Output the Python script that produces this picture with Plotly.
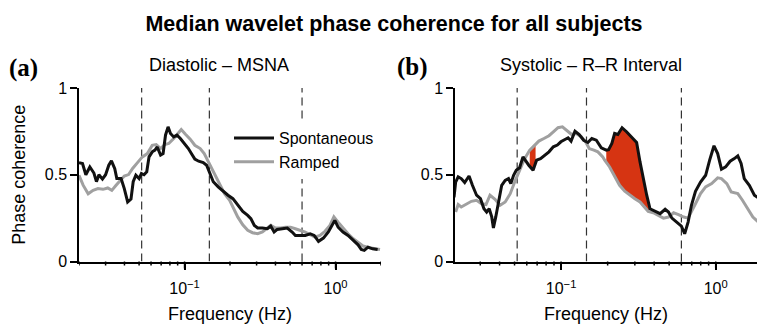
import numpy as np
import plotly.graph_objects as go

# ---------------- data ----------------
# Panel (a): Diastolic – MSNA
a_spont_freq = [0.0200, 0.0211, 0.0222, 0.0236, 0.0251, 0.0261, 0.0271, 0.0286, 0.0300, 0.0315, 0.0328,
                0.0345, 0.0356, 0.0380, 0.0399, 0.0420, 0.0442, 0.0457, 0.0476, 0.0500, 0.0518,
                0.0539, 0.0562, 0.0582, 0.0611, 0.0637, 0.0659, 0.0694, 0.0721, 0.0748, 0.0778,
                0.0807, 0.0848, 0.0891, 0.0938, 0.100, 0.106, 0.112, 0.117, 0.124, 0.133,
                0.140, 0.147, 0.155, 0.167, 0.180, 0.194, 0.209, 0.225, 0.243, 0.262,
                0.275, 0.290, 0.305, 0.328, 0.354, 0.372, 0.392, 0.411, 0.444, 0.479,
                0.516, 0.542, 0.584, 0.630, 0.679, 0.722, 0.771, 0.831, 0.896, 0.955,
                0.989, 1.04, 1.12, 1.21, 1.31, 1.41, 1.48, 1.55, 1.64, 1.76, 1.90]
a_spont_coh = [0.57, 0.565, 0.50, 0.545, 0.51, 0.46, 0.50, 0.475, 0.50, 0.555, 0.58,
               0.535, 0.478, 0.478, 0.42, 0.343, 0.36, 0.46, 0.497, 0.478, 0.507,
               0.50, 0.517, 0.603, 0.632, 0.642, 0.66, 0.613, 0.622, 0.728, 0.776,
               0.738, 0.718, 0.728, 0.709, 0.68, 0.651, 0.617, 0.59, 0.578, 0.57,
               0.555, 0.513, 0.46, 0.43, 0.405, 0.382, 0.362, 0.324, 0.289, 0.266,
               0.247, 0.208, 0.193, 0.193, 0.189, 0.204, 0.17, 0.185, 0.189, 0.193,
               0.17, 0.150, 0.150, 0.150, 0.160, 0.150, 0.116, 0.135, 0.17, 0.212,
               0.237, 0.198, 0.17, 0.150, 0.121, 0.096, 0.069, 0.064, 0.083, 0.073, 0.069]
a_ramp_freq = [0.0200, 0.0213, 0.0230, 0.0248, 0.0267, 0.0288, 0.0310, 0.0330, 0.0352, 0.0374,
               0.0399, 0.0426, 0.0453, 0.0488, 0.0526, 0.0567, 0.0611, 0.0649, 0.0694, 0.0740,
               0.0786, 0.0848, 0.0904, 0.0951, 0.101, 0.109, 0.117, 0.127, 0.135, 0.144,
               0.151, 0.160, 0.171, 0.184, 0.199, 0.209, 0.225, 0.243, 0.262, 0.282,
               0.305, 0.328, 0.350, 0.372, 0.401, 0.433, 0.466, 0.503, 0.542, 0.584,
               0.630, 0.679, 0.732, 0.789, 0.851, 0.918, 0.975, 1.04, 1.12, 1.21,
               1.31, 1.41, 1.52, 1.68, 1.85, 1.97]
a_ramp_coh = [0.497, 0.44, 0.39, 0.41, 0.42, 0.416, 0.424, 0.41, 0.439, 0.468,
              0.493, 0.501, 0.536, 0.570, 0.603, 0.622, 0.67, 0.674, 0.651, 0.674,
              0.68, 0.709, 0.738, 0.761, 0.735, 0.705, 0.67, 0.651, 0.622, 0.574,
              0.536, 0.488, 0.439, 0.391, 0.353, 0.314, 0.257, 0.212, 0.180, 0.166,
              0.160, 0.170, 0.189, 0.208, 0.193, 0.193, 0.198, 0.198, 0.189, 0.180,
              0.170, 0.154, 0.141, 0.150, 0.174, 0.208, 0.257, 0.227, 0.193, 0.160,
              0.131, 0.112, 0.089, 0.079, 0.073, 0.069]

# Panel (b): Systolic – R–R Interval
b_spont_freq = [0.0203, 0.0208, 0.0216, 0.0226, 0.0238, 0.0254, 0.0267, 0.0284, 0.0301, 0.0317, 0.0330,
                0.0343, 0.0356, 0.0365, 0.0378, 0.0394, 0.0413, 0.0435, 0.0457, 0.0473, 0.0493,
                0.0513, 0.0539, 0.0567, 0.0591, 0.0618, 0.0659, 0.0694, 0.0736, 0.0782, 0.0835,
                0.0891, 0.0946, 0.0997, 0.105, 0.111, 0.116, 0.123, 0.131, 0.140, 0.149,
                0.158, 0.169, 0.182, 0.196, 0.203, 0.213, 0.222, 0.233, 0.248, 0.265,
                0.286, 0.308, 0.324, 0.340, 0.358, 0.376, 0.406, 0.437, 0.471, 0.495,
                0.521, 0.562, 0.600, 0.630, 0.663, 0.697, 0.740, 0.798, 0.861, 0.914,
                0.975, 1.03, 1.09, 1.16, 1.24, 1.32, 1.39, 1.46, 1.53, 1.65,
                1.78, 1.94]
b_spont_coh = [0.37, 0.458, 0.488, 0.478, 0.455, 0.493, 0.439, 0.382, 0.362, 0.304, 0.285,
               0.304, 0.257, 0.193, 0.257, 0.333, 0.439, 0.468, 0.478, 0.449, 0.497,
               0.526, 0.540, 0.603, 0.578, 0.555, 0.526, 0.584, 0.593, 0.613, 0.632,
               0.661, 0.671, 0.690, 0.699, 0.713, 0.694, 0.751, 0.732, 0.699, 0.686,
               0.709, 0.699, 0.655, 0.642, 0.645, 0.680, 0.738, 0.732, 0.771, 0.748,
               0.719, 0.686, 0.574, 0.478, 0.382, 0.304, 0.289, 0.276, 0.301, 0.285,
               0.250, 0.227, 0.204, 0.160, 0.227, 0.324, 0.405, 0.458, 0.497, 0.584,
               0.667, 0.622, 0.532, 0.545, 0.578, 0.593, 0.609, 0.565, 0.478, 0.439,
               0.382, 0.359]
b_ramp_freq = [0.0208, 0.0216, 0.0226, 0.0244, 0.0263, 0.0284, 0.0306, 0.0327, 0.0347, 0.0374,
               0.0403, 0.0435, 0.0469, 0.0506, 0.0539, 0.0579, 0.0627, 0.0667, 0.0718, 0.0774,
               0.0835, 0.0891, 0.0955, 0.102, 0.109, 0.117, 0.125, 0.135, 0.145, 0.152,
               0.163, 0.173, 0.186, 0.191, 0.206, 0.222, 0.239, 0.258, 0.278, 0.300,
               0.324, 0.345, 0.366, 0.395, 0.426, 0.459, 0.495, 0.534, 0.575, 0.621,
               0.663, 0.697, 0.740, 0.798, 0.861, 0.942, 1.03, 1.09, 1.18, 1.26,
               1.39, 1.49, 1.61, 1.74, 1.87, 1.94]
b_ramp_coh = [0.285, 0.328, 0.314, 0.333, 0.347, 0.353, 0.333, 0.328, 0.382, 0.359,
              0.324, 0.343, 0.391, 0.468, 0.526, 0.590, 0.642, 0.667, 0.694, 0.709,
              0.725, 0.747, 0.771, 0.776, 0.757, 0.732, 0.738, 0.719, 0.686, 0.651,
              0.642, 0.632, 0.603, 0.585, 0.545, 0.488, 0.439, 0.405, 0.382, 0.362,
              0.343, 0.314, 0.289, 0.281, 0.266, 0.250, 0.256, 0.281, 0.270, 0.256,
              0.250, 0.285, 0.333, 0.391, 0.430, 0.449, 0.482, 0.478, 0.449, 0.401,
              0.391, 0.353, 0.304, 0.256, 0.231, 0.224]

band_edges_hz = [0.052, 0.146, 0.6]          # dashed frequency-band boundaries
b_sig_bands_hz = [(0.0627, 0.0684), (0.196, 0.37)]  # shaded (significant) ranges in (b)

major_ticks = [0.1, 1]
major_labels = ["10<sup>\u22121</sup>", "10<sup>0</sup>"]
minor_ticks = [0.02, 0.03, 0.04, 0.05, 0.06, 0.07, 0.08, 0.09,
               0.2, 0.3, 0.4, 0.5, 0.6, 0.7, 0.8, 0.9, 2]

# ---------------- styling ----------------
W, H = 757, 324
BLACK = "#111111"
GRAY = "#A0A0A0"
RED = "#D63412"
FONT = "Liberation Sans, Arial, sans-serif"

fig = go.Figure()


def sig_polygon(fa, fb, f1, v1, f2, v2):
    """Polygon between two curves over [fa, fb] (interpolated in log-frequency)."""
    l1, l2 = np.log10(f1), np.log10(f2)
    in1 = [f for f in f1 if fa < f < fb]
    in2 = [f for f in f2 if fa < f < fb]
    xs1 = [fa] + in1 + [fb]
    xs2 = [fa] + in2 + [fb]
    ys1 = list(np.interp(np.log10(xs1), l1, v1))
    ys2 = list(np.interp(np.log10(xs2), l2, v2))
    return xs1 + xs2[::-1], ys1 + ys2[::-1]


# significance fills in (b)
for fa, fb in b_sig_bands_hz:
    px, py = sig_polygon(fa, fb, b_spont_freq, b_spont_coh, b_ramp_freq, b_ramp_coh)
    fig.add_trace(go.Scatter(x=px, y=py, xaxis="x2", yaxis="y2", mode="lines",
                             fill="toself", fillcolor=RED, line=dict(width=0, color=RED),
                             showlegend=False, hoverinfo="skip"))

# curves
fig.add_trace(go.Scatter(x=a_ramp_freq, y=a_ramp_coh, name="Ramped", mode="lines",
                         line=dict(color=GRAY, width=3), xaxis="x", yaxis="y",
                         legendrank=2))
fig.add_trace(go.Scatter(x=a_spont_freq, y=a_spont_coh, name="Spontaneous", mode="lines",
                         line=dict(color=BLACK, width=3), xaxis="x", yaxis="y",
                         legendrank=1))
fig.add_trace(go.Scatter(x=b_ramp_freq, y=b_ramp_coh, name="Ramped", mode="lines",
                         line=dict(color=GRAY, width=3), xaxis="x2", yaxis="y2",
                         showlegend=False))
fig.add_trace(go.Scatter(x=b_spont_freq, y=b_spont_coh, name="Spontaneous", mode="lines",
                         line=dict(color=BLACK, width=3), xaxis="x2", yaxis="y2",
                         showlegend=False))

y_dom = [(H - 261.5) / H, (H - 88) / H]
xa_dom = [79 / W, 381 / W]
xb_dom = [455 / W, 1.0]
xa_rng = [np.log10(0.02), np.log10(2.0)]
xb_rng = [np.log10(0.0206), np.log10(1.85)]

# dashed band boundaries + explicit tick marks (major long, minor short)
shapes = []
for xr, yr, rng in (("x", "y", xa_rng), ("x2", "y2", xb_rng)):
    for f in band_edges_hz:
        shapes.append(dict(type="line", xref=xr, yref=yr, x0=f, x1=f, y0=0, y1=1,
                           line=dict(color="#333333", width=1.2, dash="8px,5px"),
                           layer="below"))
    for f, ln in [(t, 4) for t in minor_ticks] + [(t, 7) for t in major_ticks]:
        if rng[0] <= np.log10(f) <= rng[1] + 1e-9:
            shapes.append(dict(type="line", xref=xr, yref="paper", x0=f, x1=f,
                               y0=y_dom[0], y1=y_dom[0] - ln / H,
                               line=dict(color="black", width=1.5), layer="above"))

xaxis_common = dict(type="log", showline=True, linecolor="black", linewidth=1.5,
                    showgrid=False, zeroline=False, ticks="outside", ticklen=7,
                    tickwidth=1.5, tickcolor="black", tickvals=major_ticks,
                    ticktext=major_labels, tickfont=dict(family=FONT, size=16, color="black"),
                    ticklabelstandoff=5,
                    title=dict(text="Frequency (Hz)", font=dict(family=FONT, size=18, color="black"),
                               standoff=12),
                    automargin=False)
yaxis_common = dict(range=[0, 1], domain=y_dom, showline=True, linecolor="black",
                    linewidth=1.5, showgrid=False, zeroline=False, ticks="outside",
                    ticklen=7, tickwidth=1.5, tickcolor="black", tickvals=[0, 0.5, 1],
                    ticktext=["0", "0.5", "1"],
                    tickfont=dict(family=FONT, size=16, color="black"), automargin=False)

fig.update_layout(
    width=W, height=H,
    margin=dict(l=0, r=0, t=0, b=0),
    paper_bgcolor="white", plot_bgcolor="white",
    font=dict(family=FONT, color="black"),
    xaxis=dict(xaxis_common, domain=xa_dom, range=xa_rng, anchor="y"),
    xaxis2=dict(xaxis_common, domain=xb_dom, range=xb_rng, anchor="y2"),
    yaxis=dict(yaxis_common, anchor="x",
               title=dict(text="Phase coherence", font=dict(family=FONT, size=18, color="black"),
                          standoff=14)),
    yaxis2=dict(yaxis_common, anchor="x2"),
    shapes=shapes,
    showlegend=True,
    legend=dict(x=229 / W, y=(H - 121) / H, xanchor="left", yanchor="top",
                bgcolor="white", borderwidth=0, font=dict(family=FONT, size=16, color="black"),
                itemwidth=40, tracegroupgap=0),
    title=dict(text="<b>Median wavelet phase coherence for all subjects</b>",
               x=394 / W, xanchor="center", y=1 - 23 / H, yanchor="middle",
               font=dict(family=FONT, size=21.5, color="black")),
    annotations=[
        dict(text="Diastolic \u2013 MSNA", x=219 / W, y=1 - 65 / H, xref="paper", yref="paper",
             showarrow=False, xanchor="center", yanchor="middle",
             font=dict(family=FONT, size=18, color="black")),
        dict(text="Systolic \u2013 R\u2013R Interval", x=591 / W, y=1 - 65 / H, xref="paper",
             yref="paper", showarrow=False, xanchor="center", yanchor="middle",
             font=dict(family=FONT, size=18, color="black")),
        dict(text="<b>(a)</b>", x=23 / W, y=1 - 68 / H, xref="paper", yref="paper",
             showarrow=False, xanchor="center", yanchor="middle",
             font=dict(family="Liberation Serif, Times New Roman, serif", size=25, color="black")),
        dict(text="<b>(b)</b>", x=412 / W, y=1 - 67 / H, xref="paper", yref="paper",
             showarrow=False, xanchor="center", yanchor="middle",
             font=dict(family="Liberation Serif, Times New Roman, serif", size=25, color="black")),
    ],
)

fig.write_html("out.html")
